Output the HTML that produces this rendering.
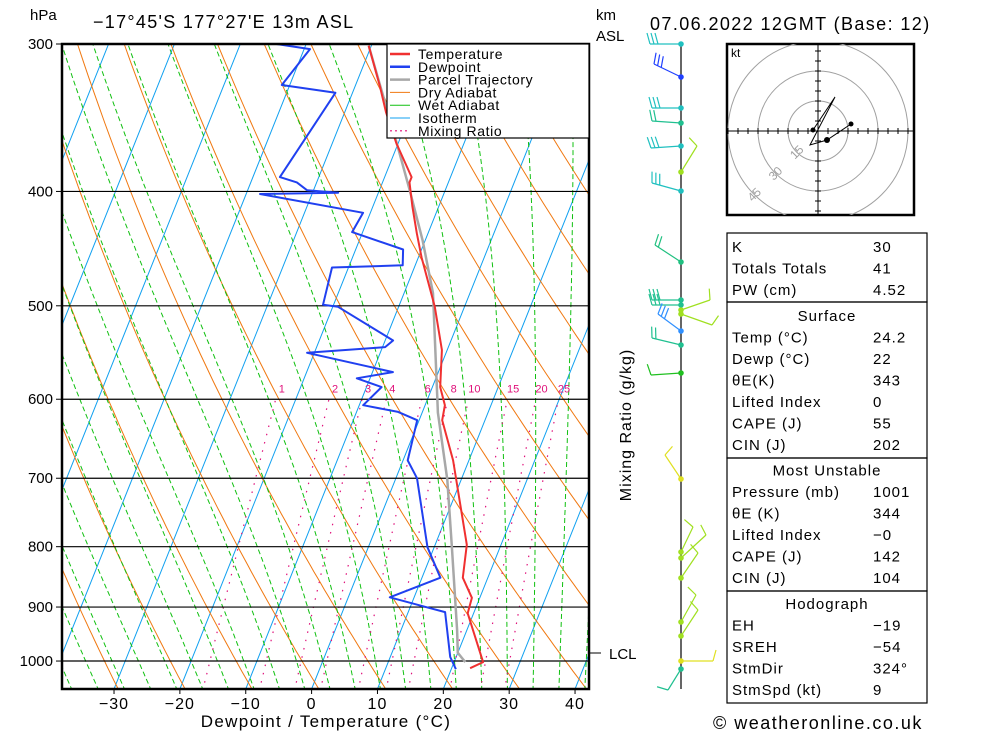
<!DOCTYPE html>
<html><head><meta charset="utf-8"><style>
html,body{margin:0;padding:0;background:#fff;}
svg{display:block;font-family:"Liberation Sans",sans-serif;}
</style></head><body>
<svg id="chart" width="1000" height="733" viewBox="0 0 1000 733" xmlns="http://www.w3.org/2000/svg">
<defs><clipPath id="plotclip"><rect x="62" y="44" width="527" height="645"/></clipPath>
<clipPath id="hodoclip"><rect x="727" y="44" width="187" height="171"/></clipPath></defs>
<g id="bg" clip-path="url(#plotclip)"></g>
<g id="profiles" clip-path="url(#plotclip)"></g>
<g id="axes"></g>
<text x="30" y="20" font-size="15">hPa</text>
<text x="93" y="28" font-size="18" letter-spacing="1.3">−17°45'S  177°27'E  13m  ASL</text>
<text x="596" y="20" font-size="15">km</text>
<text x="596" y="41" font-size="15">ASL</text>
<text x="650" y="30" font-size="18" letter-spacing="1.4">07.06.2022 12GMT (Base: 12)</text>
<text x="326" y="727" font-size="17" text-anchor="middle" letter-spacing="1.3">Dewpoint / Temperature (°C)</text>
<text transform="translate(631,425) rotate(-90)" font-size="16" text-anchor="middle" letter-spacing="1">Mixing Ratio (g/kg)</text>
<line x1="590" y1="653" x2="601" y2="653" stroke="#000"/>
<text x="609" y="659" font-size="15">LCL</text>
<g id="legend"></g>
<g id="winds"></g>
<g id="hodo"></g>
<g id="table"></g>
<text x="713" y="729" font-size="18" letter-spacing="1.5">© weatheronline.co.uk</text>
</svg>
<script>
// ---- data ----
const pressureTicks=[300,400,500,600,700,800,900,1000];
const tempTicks=[-30,-20,-10,0,10,20,30,40];
const tempP=[301,326,343,364,389,393,412,434,455,501,545,586,607,625,676,797,850,884,911,1002,1014];
const tempT=[-30.4,-26.2,-23.7,-20.3,-15.9,-15.9,-14.0,-11.7,-9.5,-4.5,-0.8,1.2,3.0,3.5,7.6,14.8,16.2,18.8,19.1,24.4,22.8];
const dewP=[300,303,325,330,389,393,399,401,402,417,433,448,462,464,499,501,535,542,548,569,576,586,607,615,625,676,700,801,850,883,902,909,992,1016];
const dewT=[-44.5,-39.1,-41.2,-32.6,-35.9,-33.0,-31.0,-26.1,-37.9,-21.1,-21.6,-12.8,-11.9,-22.5,-21.6,-19.2,-8.8,-9.6,-21.1,-6.9,-12.0,-7.7,-9.4,-3.7,-0.3,0.7,3.2,9.0,12.8,6.3,13.1,15.6,19.1,20.7];
const parcelP=[301,367,399,440,488,616,702,801,941,984,1002];
const parcelT=[-30.4,-19.8,-15.4,-10.4,-5.6,2.4,7.9,12.7,18.5,20.0,21.7];
const mixRatios=[1,2,3,4,6,8,10,15,20,25];
const hodoU=[-2.5,8.5,-4,4.5,16.5];
const hodoV=[0.5,17,-7,-4.5,3.5];
const hodoRings=[15,30,45];
const tableLabels=["K","Totals Totals","PW (cm)","Surface","Temp (°C)","Dewp (°C)","θE(K)","Lifted Index","CAPE (J)","CIN (J)","Most Unstable","Pressure (mb)","θE (K)","Lifted Index","CAPE (J)","CIN (J)","Hodograph","EH","SREH","StmDir","StmSpd (kt)"];
const tableValues=["30","41","4.52","","24.2","22","343","0","55","202","","1001","344","−0","142","104","","−19","−54","324°","9"];
// wind barbs
const barbY=[44,77,108,123,146,172,191,262,300,305,310,314,331,345,373,479,552,558,578,622,636,661,669];
const barbDX=[-31,-27,-29,-29,-30,16,-29,-26,-29,-29,29,31,-23,-29,-30,-16,12,25,17,15,17,32,-13];
const barbDY=[0,-13,0,-2,2,-26,-8,-17,0,0,-10,11,-17,-7,2,-24,-25,-23,-25,-27,-26,0,21];
const barbC=["#20c0c0","#2040ff","#20c0c0","#20c090","#20c0c0","#a0e020","#20c0c0","#20c080","#20c090","#20c090","#a0e020","#a0e020","#3090ff","#20c090","#20c020","#e0e020","#a0e020","#a0e020","#a0e020","#a0e020","#a0e020","#e0e020","#20c090"];
const barbN=[3,3,3,2,3,1,3,2,3,3,1,1,3,2,1,1,1,1,1,1,1,1,1];

// ---- scales ----
const Y0=44,PS=512.5,K=0.4,XS=6.586,X0=311.6;
function yP(p){return Y0+PS*Math.log(p/300);}
function xT(t,p){return X0+XS*t+K*(689-yP(p));}
const NS="http://www.w3.org/2000/svg";
function mk(tag,attrs,parent){const e=document.createElementNS(NS,tag);for(const k in attrs)e.setAttribute(k,attrs[k]);parent.appendChild(e);return e;}
const bg=document.getElementById('bg');
function pathFromPT(ps,ts){return ps.map((p,i)=>(i?'L':'M')+xT(ts[i],p).toFixed(1)+','+yP(p).toFixed(1)).join('');}

for(let t=-120;t<=40;t+=10){const e=mk('line',{x1:xT(t,1056),y1:yP(1056),x2:xT(t,290),y2:yP(290),stroke:'#10a0f0','stroke-width':1},bg);
}
for(let th=240;th<=460;th+=10){const ps=[],ts=[];for(let p=1060;p>=290;p-=10){ps.push(p);ts.push(th*Math.pow(p/1000,0.286)-273.15);}
const e=mk('path',{d:pathFromPT(ps,ts),fill:'none',stroke:'#f07810','stroke-width':1},bg);
}
function es(t){return 6.112*Math.exp(17.67*t/(t+243.5));}
for(let t0=-40;t0<=40;t0+=4){let T=t0+273.15;const ps=[],ts=[];let p=1000;
let Tb=T;for(let pp=1000;pp<1060;pp+=5){const r=0.622*es(Tb-273.15)/(pp-es(Tb-273.15));const g=(287*Tb+2.5e6*r)/(1004+2.5e6*2.5e6*r*0.622/(287*Tb*Tb));Tb+=g*Math.log((pp+5)/pp);}
T=Tb;for(p=1060;p>=290;p-=5){ps.push(p);ts.push(T-273.15);const e=es(T-273.15);const r=0.622*e/(p-e);const g=(287*T+2.5e6*r)/(1004+2.5e6*2.5e6*r*0.622/(287*T*T));T+=g*Math.log((p-5)/p);}
const el=mk('path',{d:pathFromPT(ps,ts),fill:'none',stroke:'#10c010','stroke-width':1,'stroke-dasharray':'5,3'},bg);
}
function tdw(w,p){const e=w*p/(622+w);const l=Math.log(e/6.112);return 243.5*l/(17.67-l);}
mixRatios.forEach(w=>{const ps=[],ts=[];for(let p=1060;p>=600;p-=10){ps.push(p);ts.push(tdw(w,p));}
const e=mk('path',{d:pathFromPT(ps,ts),fill:'none',stroke:'#e0107a','stroke-width':1.2,'stroke-dasharray':'1.5,7'},bg);

const tx=mk('text',{x:xT(tdw(w,590),590)+4,y:yP(590)+2,'font-size':11,fill:'#e0107a','text-anchor':'middle'},bg);tx.textContent=w;
});
pressureTicks.forEach(p=>{const e=mk('line',{x1:62,x2:589,y1:yP(p),y2:yP(p),stroke:'#000','stroke-width':1.2},bg);
});

const pr=document.getElementById('profiles');
[[parcelP,parcelT,'#a8a8a8',2.5,'parcel-trajectory'],[tempP,tempT,'#f03030',2,'temperature-line'],[dewP,dewT,'#2040f0',2,'dewpoint-line']].forEach(s=>{
const e=mk('path',{d:pathFromPT(s[0],s[1]),fill:'none',stroke:s[2],'stroke-width':s[3],'stroke-linejoin':'round'},pr);
});

const ax=document.getElementById('axes');
mk('rect',{x:62,y:44,width:527,height:645,fill:'none',stroke:'#000','stroke-width':2.5},ax);
pressureTicks.forEach(p=>{const t=mk('text',{x:53,y:yP(p)+5,'font-size':15,'text-anchor':'end'},ax);t.textContent=p;

mk('line',{x1:56,x2:62,y1:yP(p),y2:yP(p),stroke:'#000'},ax);});
tempTicks.forEach(t=>{const x=X0+XS*t;const e=mk('text',{x:x,y:709,'font-size':16,'text-anchor':'middle','letter-spacing':1},ax);e.textContent=t<0?'−'+(-t):t;

mk('line',{x1:x,x2:x,y1:689,y2:694,stroke:'#000'},ax);});

const lg=document.getElementById('legend');
mk('rect',{x:387,y:44,width:202,height:94,fill:'#fff',stroke:'#000','stroke-width':1.2},lg);
const legItems=[["Temperature","#f03030",2.5,""],["Dewpoint","#2040f0",2.5,""],["Parcel Trajectory","#a8a8a8",2.5,""],["Dry Adiabat","#f07810",1,""],["Wet Adiabat","#10c010",1,""],["Isotherm","#10a0f0",1,""],["Mixing Ratio","#e0107a",1.2,"2,3"]];
legItems.forEach((it,i)=>{const y=54+i*12.8;mk('line',{x1:390,x2:410,y1:y,y2:y,stroke:it[1],'stroke-width':it[2],'stroke-dasharray':it[3]||'none'},lg);
const t=mk('text',{x:418,y:y+5,'font-size':14,'letter-spacing':0.6},lg);t.textContent=it[0];
});

const wd=document.getElementById('winds');
mk('line',{x1:681,x2:681,y1:44,y2:689,stroke:'#000','stroke-width':1.2},wd);
barbY.forEach((y,i)=>{const x2=681+barbDX[i],y2=y+barbDY[i];
const g=mk('g',{},wd);
mk('line',{x1:681,y1:y,x2:x2,y2:y2,stroke:barbC[i],'stroke-width':1.2},g);
const L=Math.hypot(barbDX[i],barbDY[i]);const ux=barbDX[i]/L,uy=barbDY[i]/L;
const nx=uy*(barbDX[i]<0?1:-1),ny=-ux*(barbDX[i]<0?1:-1);
for(let k=0;k<barbN[i];k++){const bx=x2-ux*k*4,by=y2-uy*k*4;
mk('line',{x1:bx,y1:by,x2:bx+nx*-11+ux*3,y2:by+ny*-11+uy*3,stroke:barbC[i],'stroke-width':1.2},g);}
mk('circle',{cx:681,cy:y,r:2.8,fill:barbC[i]},g);});

const hd=document.getElementById('hodo');
mk('rect',{x:727,y:44,width:187,height:171,fill:'#fff',stroke:'#000','stroke-width':2.5},hd);
const HX=818,HY=131,HS=2;
const hg=mk('g',{'clip-path':'url(#hodoclip)'},hd);
hodoRings.forEach(r=>{mk('circle',{cx:HX,cy:HY,r:r*HS,fill:'none',stroke:'#a0a0a0','stroke-width':1},hg);});
mk('line',{x1:727,x2:914,y1:HY,y2:HY,stroke:'#000'},hg);mk('line',{x1:HX,x2:HX,y1:44,y2:215,stroke:'#000'},hg);
for(let k=-45;k<=45;k+=5){if(!k)continue;mk('line',{x1:HX+k*HS,x2:HX+k*HS,y1:HY-3,y2:HY+3,stroke:'#000'},hg);mk('line',{y1:HY+k*HS,y2:HY+k*HS,x1:HX-3,x2:HX+3,stroke:'#000'},hg);}
hodoRings.forEach(r=>{const a=Math.PI*0.75;const t=mk('text',{x:HX+Math.cos(a)*r*HS,y:HY+Math.sin(a)*r*HS+4,'font-size':12,fill:'#a0a0a0','text-anchor':'middle',transform:`rotate(-45 ${HX+Math.cos(a)*r*HS} ${HY+Math.sin(a)*r*HS})`},hg);t.textContent=r;});
const hp=hodoU.map((u,i)=>(i?'L':'M')+(HX+u*HS)+','+(HY-hodoV[i]*HS)).join('');
const hl=mk('path',{d:hp,fill:'none',stroke:'#000','stroke-width':1},hg);
mk('circle',{cx:HX+hodoU[0]*HS,cy:HY-hodoV[0]*HS,r:2.5,fill:'#000'},hg);
mk('circle',{cx:HX+hodoU[4]*HS,cy:HY-hodoV[4]*HS,r:2.5,fill:'#000'},hg);
mk('circle',{cx:HX+hodoU[3]*HS,cy:HY-hodoV[3]*HS,r:3,fill:'#000'},hg);
const kt=mk('text',{x:731,y:57,'font-size':12},hd);kt.textContent='kt';

const tb=document.getElementById('table');
const boxes=[[233,302],[302,458],[458,591],[591,703]];
boxes.forEach(b=>mk('rect',{x:727,y:b[0],width:200,height:b[1]-b[0],fill:'none',stroke:'#000','stroke-width':1.2},tb));
const headers=[3,10,16];
tableLabels.forEach((l,i)=>{const nh=headers.filter(h=>h<=i).length;const y=252+i*21.5+nh*4.3;const head=headers.includes(i);
const t=mk('text',{x:head?827:732,y:y,'font-size':15,'letter-spacing':1,'text-anchor':head?'middle':'start'},tb);t.textContent=l;

if(tableValues[i]){const v=mk('text',{x:873,y:y,'font-size':15,'letter-spacing':1},tb);v.textContent=tableValues[i];
}});
</script>
</body></html>
